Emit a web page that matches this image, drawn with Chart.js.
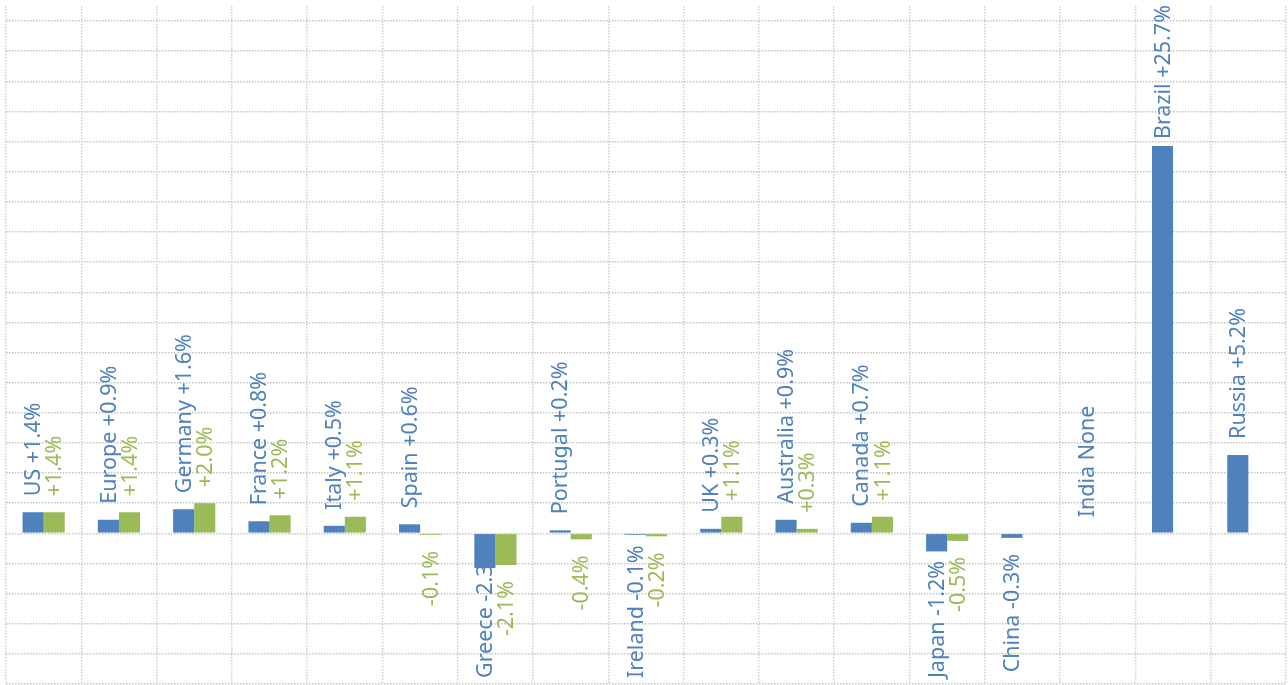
<!DOCTYPE html>
<html>
<head>
<meta charset="utf-8">
<script src="https://cdn.jsdelivr.net/npm/chart.js@4.4.0/dist/chart.umd.min.js"></script>
<style>
    html, body { margin: 0; padding: 0; background: #ffffff; }
    #wrap { width: 1288px; height: 685px; }
</style>
</head>
<body>
<div id="wrap"><canvas id="chart"></canvas></div>
<script>
// Chart data
const countries = ['US', 'Europe', 'Germany', 'France', 'Italy', 'Spain', 'Greece', 'Portugal', 'Ireland',
    'UK', 'Australia', 'Canada', 'Japan', 'China', 'India', 'Brazil', 'Russia'];
const blueValues = [1.4, 0.9, 1.6, 0.8, 0.5, 0.6, -2.3, 0.2, -0.1, 0.3, 0.9, 0.7, -1.2, -0.3, null, 25.7, 5.2];
const greenValues = [1.4, 1.4, 2.0, 1.2, 1.1, -0.1, -2.1, -0.4, -0.2, 1.1, 0.3, 1.1, -0.5, null, null, null, null];
const yMin = -10;
const yMax = 35;
const yStep = 2;

const BLUE = '#4f81bd';
const GREEN = '#9bbb59';
const GROUP = 0.56;

function fmt(v) {
    return (v > 0 ? '+' : '') + v.toFixed(1) + '%';
}

// Blue label carries the country name, green one only the number
const blueLabels = countries.map((c, i) => blueValues[i] === null ? c + ' None' : c + ' ' + fmt(blueValues[i]));
const greenLabels = greenValues.map(v => v === null ? null : fmt(v));

// Rotated labels drawn over the bars, kept inside the picture
const labelPlugin = {
    id: 'rotLabels',
    afterDatasetsDraw(chart) {
        const ctx = chart.ctx;
        const xs = chart.scales.x;
        const ys = chart.scales.y;
        const cw = xs.width / countries.length;
        const gap = 16;
        ctx.save();
        ctx.font = '21.5px "Noto Sans"';
        ctx.textAlign = 'left';
        ctx.textBaseline = 'middle';
        [[blueValues, blueLabels, BLUE, -1], [greenValues, greenLabels, GREEN, 1]].forEach(([vals, labs, col, side]) => {
            labs.forEach((txt, i) => {
                if (txt === null) return;
                const v = vals[i] === null ? 0 : vals[i];
                const x = xs.getPixelForValue(i) + side * cw * GROUP / 4;
                const len = ctx.measureText(txt).width;
                let start;
                if (v >= 0) {
                    start = ys.getPixelForValue(v) - gap;
                } else {
                    start = ys.getPixelForValue(v) + gap + len;
                }
                start = Math.min(start, 678);
                if (start - len < 5) start = 5 + len;
                ctx.fillStyle = col;
                ctx.save();
                ctx.translate(x + 1, start);
                ctx.rotate(-Math.PI / 2);
                ctx.fillText(txt, 0, 0);
                ctx.restore();
            });
        });
        ctx.restore();
    }
};

new Chart(document.getElementById('chart'), {
    type: 'bar',
    data: {
        labels: countries,
        datasets: [
            { data: blueValues, backgroundColor: BLUE },
            { data: greenValues, backgroundColor: GREEN }
        ]
    },
    options: {
        responsive: true,
        maintainAspectRatio: false,
        animation: false,
        categoryPercentage: GROUP,
        barPercentage: 1,
        layout: { padding: { left: 6, right: 2, top: 6, bottom: 1 } },
        plugins: {
            legend: { display: false },
            tooltip: { enabled: false }
        },
        scales: {
            x: {
                ticks: { display: false },
                border: { display: false, dash: [1.5, 1.5] },
                grid: {
                    color: '#cfcfcf',
                    lineWidth: 1.5,
                    drawTicks: false
                }
            },
            y: {
                min: yMin,
                max: yMax,
                ticks: { display: false, stepSize: yStep },
                border: { display: false, dash: [1.5, 1.5] },
                grid: {
                    color: ctx => (ctx.tick && ctx.tick.value === yMax) ? 'rgba(0,0,0,0)' : '#c4c4c4',
                    lineWidth: 1.5,
                    drawTicks: false
                }
            }
        }
    },
    plugins: [labelPlugin]
});
</script>
</body>
</html>
